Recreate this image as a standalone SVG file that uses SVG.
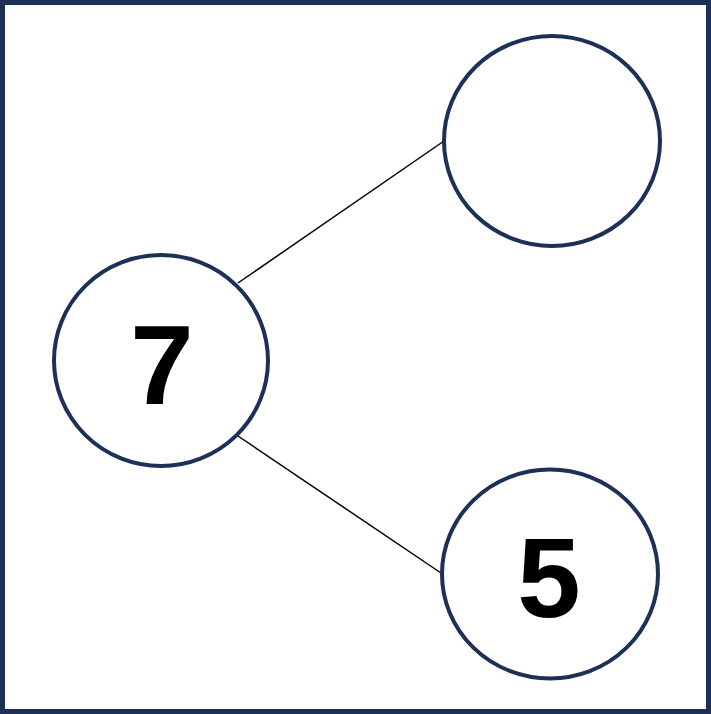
<svg xmlns="http://www.w3.org/2000/svg" width="711" height="714" viewBox="0 0 711 714">
<style>
.node{fill:#fff;stroke:#1c3058;stroke-width:4}
.lbl{font-family:"Liberation Sans",Arial,sans-serif;font-weight:bold;font-size:114px;fill:#000;text-anchor:middle}
.edge{stroke:#000;stroke-width:1.5;fill:none}
</style>
<rect x="2.5" y="2.5" width="706" height="709" fill="#fff" stroke="#1c3058" stroke-width="5"/>
<g id="connectors">
<line class="edge" x1="238" y1="283" x2="444" y2="141"/>
<line class="edge" x1="238" y1="436" x2="441" y2="573"/>
</g>
<g id="node-7">
<ellipse class="node" cx="161" cy="360.5" rx="107" ry="105.5"/>
<text class="lbl" x="162" y="404">7</text>
</g>
<g id="node-top">
<ellipse class="node" cx="552" cy="141" rx="108" ry="105"/>
</g>
<g id="node-5">
<ellipse class="node" cx="550" cy="574" rx="108" ry="104.5"/>
<text class="lbl" x="549" y="617">5</text>
</g>
</svg>
